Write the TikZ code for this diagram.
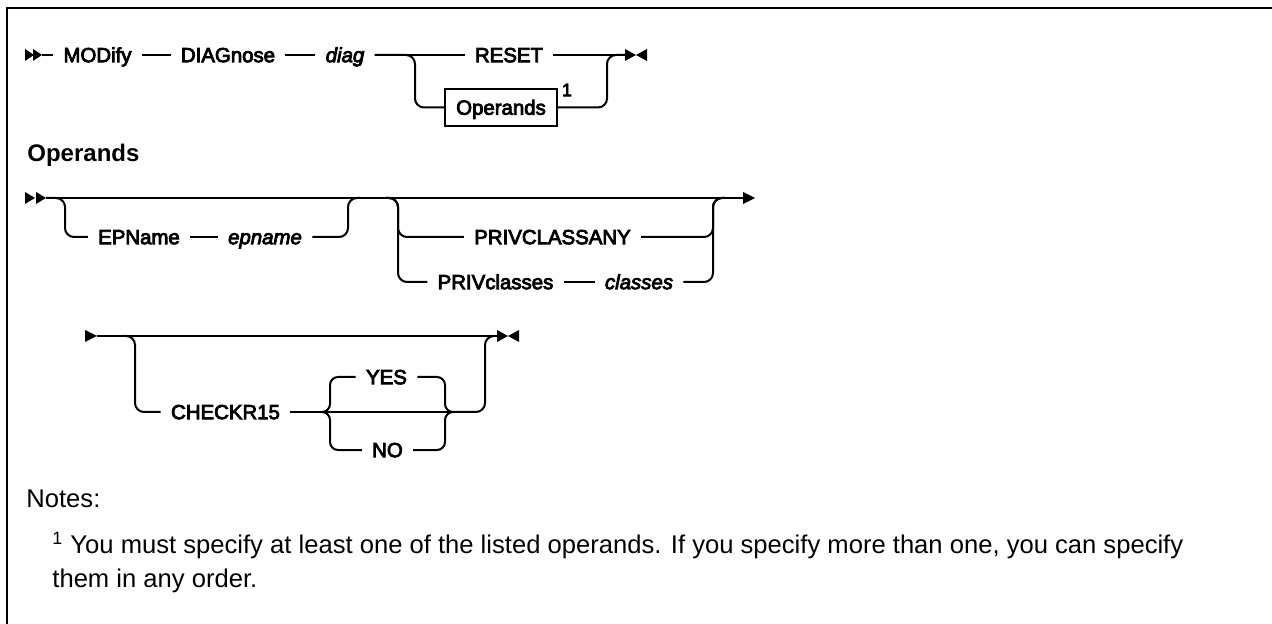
\documentclass[tikz,border=0pt]{standalone}
\usepackage{fontspec}
\setmainfont{Liberation Sans}
\font\kwfont="Liberation Sans:embolden=4" at 10.2pt
\font\kwitfont="Liberation Sans/I:embolden=4" at 10.2pt
\font\supfont="Liberation Sans:embolden=4" at 9pt
\begin{document}
\begin{tikzpicture}[x=0.5pt,y=-0.5pt,
  conn/.style={line width=1pt},
  rc/.style={rounded corners=4.5pt},
  rcb/.style={rounded corners=4pt},
  kw/.style={font=\kwfont, inner xsep=5pt, inner ysep=0pt, text height=9pt, text depth=1.84pt},
  var/.style={font=\kwitfont},
  box/.style={draw, line width=1pt, font=\kwfont, minimum width=56pt, minimum height=18.5pt, inner sep=0pt, text height=9pt, text depth=1.84pt},
  supr/.style={font=\supfont, inner sep=0pt},
  head/.style={font=\bfseries\fontsize{12}{14}\selectfont, inner sep=0pt},
  note/.style={font=\fontsize{12.8}{17}\selectfont, inner sep=0pt}
]
\useasboundingbox (0,0) rectangle (1272,624);
% frame
\draw[line width=1.25pt] (7,624) -- (7,8) -- (1272,8);

% ---------- line 1 ----------
\fill (25,49) -- (34,55) -- (25,61) -- cycle;
\fill (33,49) -- (42,55) -- (33,61) -- cycle;
\coordinate (s1) at (42,55);
\node[kw] (mod) at (97.5,55) {MODify};
\node[kw] (dgn) at (228,55) {DIAGnose};
\node[kw,var] (dg) at (345,55) {diag};
\node[kw] (rst) at (509,55) {RESET};
\node[box] (ops) at (501,107.5) {Operands};
\node[supr] (n1) at (567,90) {1};
\coordinate (e1) at (625,55);
\draw[conn] (s1) -- (mod) -- (dgn) -- (dg) -- (rst) -- (e1);
\draw[conn,rc] (dg.east) -- (415,55) -- (415,107.5) -- (ops.west);
\draw[conn,rc] (ops.east) -- (607,107.5) -- (607,55) -- (e1);
\fill (625,49) -- (636,55) -- (625,61) -- cycle;
\fill (647,49) -- (636,55) -- (647,61) -- cycle;

% ---------- heading ----------
\node[head, anchor=west] (oph) at (27,155) {Operands};

% ---------- line 2 ----------
\fill (25,192) -- (35,198) -- (25,204) -- cycle;
\fill (36,192) -- (46,198) -- (36,204) -- cycle;
\coordinate (s2) at (46,198);
\coordinate (e2) at (743,198);
\draw[conn] (s2) -- (e2);
\fill (743,192) -- (755,198) -- (743,204) -- cycle;

\node[kw] (epn) at (139,237) {EPName};
\node[kw,var] (epv) at (265,237) {epname};
\coordinate (j2a) at (360,198);
\draw[conn] (epn) -- (epv);
\draw[conn,rc] (s2) -- (65,198) -- (65,237) -- (epn);
\draw[conn,rc] (epv) -- (348,237) -- (348,198) -- (j2a);

\node[kw] (pany) at (552.5,237) {PRIVCLASSANY};
\node[kw] (pcl) at (495.5,282) {PRIVclasses};
\node[kw,var] (pclv) at (639,282) {classes};
\coordinate (j2b) at (386,198);
\coordinate (j2c) at (725,198);
\draw[conn] (pcl) -- (pclv);
\draw[conn,rc] (j2b) -- (398,198) -- (398,237) -- (pany);
\draw[conn,rc] (j2b) -- (398,198) -- (398,282) -- (pcl);
\draw[conn,rc] (pany) -- (713,237) -- (713,198) -- (j2c);
\draw[conn,rc] (pclv) -- (713,282) -- (713,198) -- (j2c);

% ---------- line 3 ----------
\fill (85,330) -- (97,336) -- (85,342) -- cycle;
\coordinate (s3) at (97,336);
\coordinate (e3) at (497,336);
\draw[conn] (s3) -- (e3);
\fill (497,330) -- (508,336) -- (497,342) -- cycle;
\fill (519,330) -- (508,336) -- (519,342) -- cycle;

\node[kw] (chk) at (225.5,412) {CHECKR15};
\node[kw] (yes) at (386.5,377) {YES};
\node[kw] (no) at (387.5,450) {NO};
\coordinate (jl) at (322,412);
\coordinate (jr) at (453,412);
\coordinate (j3a) at (123,336);
\coordinate (j3b) at (495,336);
\draw[conn,rc] (j3a) -- (135,336) -- (135,412) -- (chk);
\draw[conn] (chk) -- (jl) -- (jr);
\draw[conn,rcb] (jl) -- (330,412) -- (330,377) -- (yes);
\draw[conn,rcb] (jl) -- (330,412) -- (330,450) -- (no);
\draw[conn,rcb] (yes) -- (445,377) -- (445,412) -- (jr);
\draw[conn,rcb] (no) -- (445,450) -- (445,412) -- (jr);
\draw[conn,rc] (jr) -- (485,412) -- (485,336) -- (j3b);

% ---------- notes ----------
\node[note, anchor=base west] (notes) at (26,507) {Notes:};
\node[note, anchor=base west, align=left] (fn) at (52,587) {\textsuperscript{1} You must specify at least one of the listed operands. If you specify more than one, you can specify\\them in any order.};
\end{tikzpicture}
\end{document}
